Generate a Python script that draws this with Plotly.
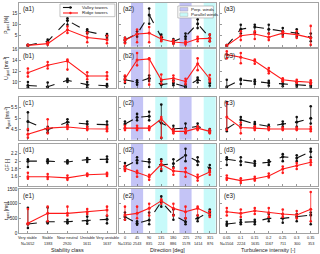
import plotly.graph_objects as go
from plotly.subplots import make_subplots

# ---------------- categories / tick labels ----------------
STAB_X = [1, 2, 3, 4, 5]
STAB_LABELS = ["Very stable<br>N=1652", "Stable<br>1383", "Near neutral<br>2920",
               "Unstable<br>1611", "Very unstable<br>1637"]
DIR_X = [0, 45, 90, 135, 180, 225, 270, 315]
DIR_LABELS = ["0<br>N=1350", "45<br>2543", "90<br>835", "135<br>224",
              "180<br>886", "225<br>1578", "270<br>1414", "315<br>876"]
TI_X = [0.05, 0.1, 0.15, 0.2, 0.25, 0.3, 0.35]
TI_LABELS = ["0.05<br>N=1504", "0.1<br>2224", "0.15<br>1635", "0.2<br>1167",
             "0.25<br>711", "0.3<br>300", "0.35<br>353"]
PERP_BANDS = [(22.5, 67.5), (202.5, 247.5)]
PARA_BANDS = [(112.5, 157.5), (292.5, 337.5)]
SERIES_NAMES = ["Valley towers", "Ridge towers"]
BAND_NAMES = ["Perp. winds", "Parallel winds"]

# ---------------- row a : gust probability ----------------
A1_V = [0.6, 2.4, 12.0, 7.0, 5.0]
A1_V_LO = [0.3, 1.5, 10.0, 6.0, 4.0]
A1_V_HI = [0.9, 3.2, 13.0, 8.0, 5.8]
A1_R = [0.6, 1.4, 7.7, 4.2, 3.2]
A1_R_LO = [0.3, 0.8, 6.3, 2.0, 1.5]
A1_R_HI = [0.9, 2.0, 9.2, 6.5, 5.0]
A2_V = [3.2, 5.8, 14.5, 4.4, 2.4, 4.7, 10.5, 4.0]
A2_V_LO = [2.0, 4.5, 10.5, 3.0, 1.5, 3.5, 8.5, 2.5]
A2_V_HI = [4.0, 7.0, 17.5, 5.5, 3.5, 6.0, 12.5, 5.5]
A2_R = [2.9, 5.8, 6.2, 3.5, 2.1, 1.7, 3.6, 3.8]
A2_R_LO = [1.5, 2.0, 2.0, 2.5, 1.2, 1.0, 2.5, 2.5]
A2_R_HI = [4.0, 7.8, 9.0, 4.5, 3.0, 2.5, 4.5, 5.5]
A3_V = [0.45, 8.0, 9.0, 8.0, 7.0, 6.2, 4.2]
A3_V_LO = [0.2, 6.0, 6.5, 6.0, 5.5, 4.5, 2.5]
A3_V_HI = [0.7, 10.0, 10.0, 10.0, 8.5, 8.0, 6.0]
A3_R = [0.45, 5.0, 5.8, 4.3, 6.2, 5.5, 4.0]
A3_R_LO = [0.2, 3.0, 3.5, 3.0, 4.5, 4.0, 0.8]
A3_R_HI = [0.7, 7.0, 7.0, 6.0, 7.0, 7.0, 9.5]

# ---------------- row b : gust speed ----------------
B1_V = [9.35, 9.1, 10.3, 9.5, 9.3]
B1_V_LO = [9.0, 8.8, 10.0, 9.0, 9.1]
B1_V_HI = [10.0, 9.9, 10.6, 10.0, 9.6]
B1_R = [11.7, 13.1, 13.9, 11.1, 11.1]
B1_R_LO = [11.0, 12.5, 12.3, 10.5, 10.5]
B1_R_HI = [12.5, 13.7, 14.2, 11.8, 11.8]
B2_V = [10.4, 9.95, 10.7, 9.5, 9.8, 9.1, 10.4, 9.8]
B2_V_LO = [9.8, 9.5, 10.2, 8.5, 9.4, 8.8, 9.9, 9.3]
B2_V_HI = [11.0, 10.3, 11.2, 10.2, 10.3, 9.5, 10.8, 10.4]
B2_R = [10.6, 14.1, 14.3, 10.4, 10.7, 10.1, 13.4, 10.6]
B2_R_LO = [10.0, 13.1, 9.5, 9.7, 10.1, 9.6, 12.2, 10.1]
B2_R_HI = [11.2, 15.4, 14.4, 11.4, 11.2, 10.6, 14.4, 11.3]
B3_V = [9.1, 10.4, 10.1, 9.8, 9.65, 9.5, 9.3]
B3_V_LO = [8.9, 9.6, 9.6, 9.3, 9.2, 9.1, 8.9]
B3_V_HI = [10.4, 10.6, 10.4, 10.2, 10.1, 9.9, 9.7]
B3_R = [15.1, 14.6, 13.9, 12.1, 10.4, 10.1, 9.95]
B3_R_LO = [14.4, 13.5, 13.4, 11.6, 10.1, 9.8, 9.6]
B3_R_HI = [15.7, 15.4, 14.2, 12.6, 10.7, 10.4, 10.3]

# ---------------- row c : gust acceleration ----------------
C1_V = [4.85, 4.47, 4.82, 4.73, 4.7]
C1_V_LO = [4.45, 4.35, 4.7, 4.6, 4.55]
C1_V_HI = [5.27, 4.6, 4.95, 4.85, 4.85]
C1_R = [4.26, 4.54, 4.59, 4.51, 4.5]
C1_R_LO = [4.1, 4.3, 4.5, 4.45, 4.4]
C1_R_HI = [4.5, 4.95, 4.65, 4.6, 4.6]
C2_V = [4.73, 5.04, 5.09, 4.78, 4.51, 4.54, 4.62, 4.43]
C2_V_LO = [4.55, 4.9, 4.9, 4.08, 4.4, 4.35, 4.5, 4.35]
C2_V_HI = [4.85, 5.2, 5.3, 5.63, 4.65, 4.75, 4.75, 4.5]
C2_R = [4.54, 4.54, 4.54, 4.96, 4.39, 4.39, 4.54, 4.39]
C2_R_LO = [4.45, 4.45, 4.45, 4.1, 4.3, 4.3, 4.45, 4.3]
C2_R_HI = [4.65, 4.65, 4.62, 5.05, 4.5, 4.5, 4.62, 4.47]
C3_V = [4.51, 4.93, 4.73, 4.62, 4.73, 4.82, 5.0]
C3_V_LO = [4.4, 4.7, 4.6, 4.55, 4.6, 4.6, 4.75]
C3_V_HI = [5.75, 5.05, 4.82, 4.7, 4.85, 5.05, 5.55]
C3_R = [5.05, 4.57, 4.54, 4.5, 4.5, 4.5, 4.5]
C3_R_LO = [4.47, 4.3, 4.45, 4.45, 4.45, 4.45, 4.4]
C3_R_HI = [5.7, 4.8, 4.62, 4.58, 4.57, 4.57, 4.6]

# ---------------- row d : gust factor ----------------
D1_V = [2.0, 2.0, 1.98, 2.04, 2.05]
D1_V_LO = [1.85, 1.95, 1.94, 1.98, 1.98]
D1_V_HI = [2.05, 2.05, 2.02, 2.08, 2.12]
D1_R = [1.6, 1.6, 1.57, 1.65, 1.67]
D1_R_LO = [1.55, 1.54, 1.52, 1.62, 1.62]
D1_R_HI = [1.7, 1.67, 1.63, 1.68, 1.7]
D2_V = [1.86, 2.02, 1.98, 1.9, 1.94, 2.15, 2.0, 1.82]
D2_V_LO = [1.78, 1.95, 1.85, 1.75, 1.85, 2.0, 1.9, 1.75]
D2_V_HI = [1.95, 2.1, 2.05, 2.05, 2.05, 2.32, 2.1, 1.9]
D2_R = [1.82, 1.7, 1.6, 1.92, 1.75, 1.72, 1.58, 1.72]
D2_R_LO = [1.75, 1.6, 1.52, 1.8, 1.65, 1.6, 1.5, 1.65]
D2_R_HI = [1.88, 1.75, 1.65, 2.0, 1.82, 1.82, 1.65, 1.78]
D3_V = [2.05, 2.0, 1.94, 1.97, 2.11, 2.08, 2.25]
D3_V_LO = [1.9, 1.9, 1.88, 1.9, 2.0, 2.0, 2.1]
D3_V_HI = [2.1, 2.1, 2.0, 2.02, 2.18, 2.15, 2.32]
D3_R = [1.57, 1.5, 1.55, 1.62, 1.8, 1.88, 1.97]
D3_R_LO = [1.52, 1.44, 1.5, 1.58, 1.7, 1.8, 1.9]
D3_R_HI = [1.63, 1.56, 1.6, 1.68, 1.86, 1.95, 2.03]

# ---------------- row e : gust duration ----------------
E1_V = [307, 386, 386, 420, 466]
E1_V_LO = [170, 330, 330, 320, 330]
E1_V_HI = [860, 870, 450, 560, 580]
E1_R = [330, 670, 670, 727, 784]
E1_R_LO = [300, 400, 600, 650, 600]
E1_R_HI = [820, 900, 900, 820, 900]
E2_V = [557, 330, 443, 1067, 614, 386, 500, 727]
E2_V_LO = [450, 280, 300, 900, 450, 300, 400, 600]
E2_V_HI = [700, 400, 700, 1250, 800, 500, 600, 800]
E2_R = [614, 670, 841, 1100, 841, 727, 841, 648]
E2_R_LO = [450, 500, 600, 1000, 600, 500, 600, 550]
E2_R_HI = [900, 900, 1000, 1150, 1000, 900, 900, 750]
E3_V = [307, 364, 386, 500, 500, 557, 614]
E3_V_LO = [250, 300, 300, 400, 350, 400, 300]
E3_V_HI = [380, 450, 450, 650, 650, 650, 700]
E3_R = [727, 670, 761, 693, 648, 614, 807]
E3_R_LO = [600, 550, 650, 550, 550, 500, 400]
E3_R_HI = [850, 800, 850, 850, 800, 750, 1400]

Y_TITLES = ["P<sub>gust</sub> [%]", "U<sub>gust</sub> [ms<sup>-1</sup>]",
            "a<sub>gust</sub> [ms<sup>-2</sup>]", "GF [-]", "t<sub>gust</sub> [ms]"]
Y_RANGES = [[0, 20], [8.8, 16.1], [4, 6], [1.35, 2.45], [0, 1500]]
Y_TICKS = [[5, 10, 15], [10, 12, 14, 16], [4.5, 5, 5.5], [1.6, 1.8, 2, 2.2], [0, 500, 1000, 1500]]
X_TITLES = ["Stability class", "Direction [deg]", "Turbulence intensity [-]"]

PANELS = [
    [(A1_V, A1_V_LO, A1_V_HI, A1_R, A1_R_LO, A1_R_HI),
     (A2_V, A2_V_LO, A2_V_HI, A2_R, A2_R_LO, A2_R_HI),
     (A3_V, A3_V_LO, A3_V_HI, A3_R, A3_R_LO, A3_R_HI)],
    [(B1_V, B1_V_LO, B1_V_HI, B1_R, B1_R_LO, B1_R_HI),
     (B2_V, B2_V_LO, B2_V_HI, B2_R, B2_R_LO, B2_R_HI),
     (B3_V, B3_V_LO, B3_V_HI, B3_R, B3_R_LO, B3_R_HI)],
    [(C1_V, C1_V_LO, C1_V_HI, C1_R, C1_R_LO, C1_R_HI),
     (C2_V, C2_V_LO, C2_V_HI, C2_R, C2_R_LO, C2_R_HI),
     (C3_V, C3_V_LO, C3_V_HI, C3_R, C3_R_LO, C3_R_HI)],
    [(D1_V, D1_V_LO, D1_V_HI, D1_R, D1_R_LO, D1_R_HI),
     (D2_V, D2_V_LO, D2_V_HI, D2_R, D2_R_LO, D2_R_HI),
     (D3_V, D3_V_LO, D3_V_HI, D3_R, D3_R_LO, D3_R_HI)],
    [(E1_V, E1_V_LO, E1_V_HI, E1_R, E1_R_LO, E1_R_HI),
     (E2_V, E2_V_LO, E2_V_HI, E2_R, E2_R_LO, E2_R_HI),
     (E3_V, E3_V_LO, E3_V_HI, E3_R, E3_R_LO, E3_R_HI)],
]
COL_X = [STAB_X, DIR_X, TI_X]
COL_LABELS = [STAB_LABELS, DIR_LABELS, TI_LABELS]
X_RANGES = [[0.55, 5.45], [-22.5, 337.5], [0.025, 0.376]]

# ---------------- layout geometry (pixels) ----------------
W, H = 320, 254
PL, PR, PT, PB = 19, 318.3, 3, 233.3
COL_PX = [(19, 116), (119, 216), (220, 318.3)]
ROW_PX = [(3, 46.7), (49.3, 88.5), (96.7, 140), (143.8, 186.7), (189.3, 233.3)]


def px_x(p):
    return (p - PL) / (PR - PL)


def px_y(p):
    return (PB - p) / (PB - PT)


BLACK = "#111111"
RED = "#ff1a1a"
BLUE_BAND = "rgb(196,196,246)"
CYAN_BAND = "rgb(200,250,250)"
FONT = "Liberation Sans"
TXT = "#222"

fig = make_subplots(rows=5, cols=3)

for r in range(5):
    for c in range(3):
        xs = COL_X[c]
        v, vlo, vhi, rr, rlo, rhi = PANELS[r][c]
        for (m, lo, hi, col, dash, name) in [(v, vlo, vhi, BLACK, "dash", SERIES_NAMES[0]),
                                             (rr, rlo, rhi, RED, "solid", SERIES_NAMES[1])]:
            fig.add_trace(go.Scatter(
                x=xs, y=m, mode="lines+markers", name=name, showlegend=False,
                line=dict(color=col, width=1.1, dash=dash),
                marker=dict(color=col, size=3),
                error_y=dict(type="data", symmetric=False,
                             array=[h - a for h, a in zip(hi, m)],
                             arrayminus=[a - l for a, l in zip(m, lo)],
                             color=col, thickness=0.8, width=0)),
                row=r + 1, col=c + 1)
            fig.add_trace(go.Scatter(
                x=list(xs) + list(xs), y=list(lo) + list(hi), mode="markers",
                showlegend=False, marker=dict(color=col, size=2.6),
                hoverinfo="skip"), row=r + 1, col=c + 1)

shapes = []
annotations = []
axis_common = dict(showline=True, mirror=True, linecolor="#8c8c8c", linewidth=0.8,
                   ticks="inside", ticklen=2, tickcolor="#555", tickwidth=0.6,
                   showgrid=False, zeroline=False, tickangle=0)
letters = "abcde"
for r in range(5):
    for c in range(3):
        idx = r * 3 + c + 1
        sfx = "" if idx == 1 else str(idx)
        xa = dict(axis_common, domain=[px_x(COL_PX[c][0]), px_x(COL_PX[c][1])],
                  range=X_RANGES[c], tickvals=COL_X[c],
                  showticklabels=False, automargin=False)
        ya = dict(axis_common, domain=[px_y(ROW_PX[r][1]), px_y(ROW_PX[r][0])],
                  range=Y_RANGES[r], tickvals=Y_TICKS[r],
                  showticklabels=(c == 0), automargin=False,
                  tickfont=dict(size=4.5, family=FONT, color=TXT))
        fig.layout["xaxis" + sfx].update(xa)
        fig.layout["yaxis" + sfx].update(ya)
        annotations.append(dict(
            text="(%s%d)" % (letters[r], c + 1), xref="paper", yref="paper",
            x=px_x(COL_PX[c][0] + 2), y=px_y(ROW_PX[r][0] + 0.5),
            xanchor="left", yanchor="top", showarrow=False,
            font=dict(size=6.3, family=FONT, color=TXT)))
        if c == 1:
            for (b0, b1) in PERP_BANDS:
                shapes.append(dict(type="rect", xref="x" + sfx, yref="y" + sfx + " domain",
                                   x0=b0, x1=b1, y0=0, y1=1, fillcolor=BLUE_BAND,
                                   line=dict(width=0), layer="below"))
            for (b0, b1) in PARA_BANDS:
                shapes.append(dict(type="rect", xref="x" + sfx, yref="y" + sfx + " domain",
                                   x0=b0, x1=b1, y0=0, y1=1, fillcolor=CYAN_BAND,
                                   line=dict(width=0), layer="below"))
        # bottom-row category labels (two lines), anchored to the data x values
        if r == 4:
            for xv, lab in zip(COL_X[c], COL_LABELS[c]):
                for li, part in enumerate(lab.split("<br>")):
                    annotations.append(dict(
                        text=part, xref="x" + sfx, yref="paper", x=xv,
                        y=px_y(238.3 + 6.0 * li), xanchor="center", yanchor="middle",
                        showarrow=False, font=dict(size=3.8, family=FONT, color=TXT)))
    annotations.append(dict(
        text=Y_TITLES[r], xref="paper", yref="paper", x=px_x(7),
        y=px_y((ROW_PX[r][0] + ROW_PX[r][1]) / 2), textangle=-90,
        xanchor="center", yanchor="middle", showarrow=False,
        font=dict(size=4.8, family=FONT, color=TXT)))

for c in range(3):
    annotations.append(dict(
        text=X_TITLES[c], xref="paper", yref="paper",
        x=px_x((COL_PX[c][0] + COL_PX[c][1]) / 2), y=px_y(250.3),
        xanchor="center", yanchor="middle", showarrow=False,
        font=dict(size=5.4, family=FONT, color=TXT)))

# ---------------- hand-drawn compact legends (plotly legends have a 19px row minimum) ----
LEG_FONT = dict(size=4.4, family=FONT, color=TXT)
# legend 1: series, inside (a1)
shapes.append(dict(type="rect", xref="paper", yref="paper", layer="above",
                   x0=px_x(60), x1=px_x(115), y0=px_y(16.7), y1=px_y(4),
                   fillcolor="white", line=dict(color="#9a9a9a", width=0.6)))
for k, (col, dash) in enumerate([(BLACK, "dash"), (RED, "solid")]):
    yy = px_y(7.5 + 5.5 * k)
    shapes.append(dict(type="line", xref="paper", yref="paper", layer="above",
                       x0=px_x(63), x1=px_x(78), y0=yy, y1=yy,
                       line=dict(color=col, width=1.1, dash=dash)))
    shapes.append(dict(type="circle", xref="paper", yref="paper", layer="above",
                       x0=px_x(69.3), x1=px_x(71.7), y0=yy - 1.2 / (PB - PT),
                       y1=yy + 1.2 / (PB - PT), fillcolor=col, line=dict(width=0)))
    annotations.append(dict(text=SERIES_NAMES[k], xref="paper", yref="paper",
                            x=px_x(80), y=yy, xanchor="left", yanchor="middle",
                            showarrow=False, font=LEG_FONT))
# legend 2: wind sectors, inside (a2)
shapes.append(dict(type="rect", xref="paper", yref="paper", layer="above",
                   x0=px_x(178), x1=px_x(213.5), y0=px_y(18), y1=px_y(6),
                   fillcolor="white", line=dict(color="#9a9a9a", width=0.6)))
for k, fc in enumerate([BLUE_BAND, CYAN_BAND]):
    yy = px_y(9.3 + 5.3 * k)
    shapes.append(dict(type="rect", xref="paper", yref="paper", layer="above",
                       x0=px_x(180), x1=px_x(188), y0=yy - 1.8 / (PB - PT),
                       y1=yy + 1.8 / (PB - PT), fillcolor=fc,
                       line=dict(color="#9a9a9a", width=0.4)))
    annotations.append(dict(text=BAND_NAMES[k], xref="paper", yref="paper",
                            x=px_x(189.5), y=yy, xanchor="left", yanchor="middle",
                            showarrow=False, font=LEG_FONT))

fig.update_layout(
    width=W, height=H, autosize=False,
    margin=dict(l=PL, r=W - PR, t=PT, b=H - PB, pad=0),
    paper_bgcolor="white", plot_bgcolor="white",
    shapes=shapes, annotations=annotations,
    font=dict(family=FONT, size=5),
    showlegend=False, hovermode=False,
)

# remove the browser's default 8px body margin so the figure sits at the page origin
fig.write_html("out.html", config={"displayModeBar": False, "staticPlot": True},
               post_script="document.body.style.margin='0';document.body.style.overflow='hidden';")
